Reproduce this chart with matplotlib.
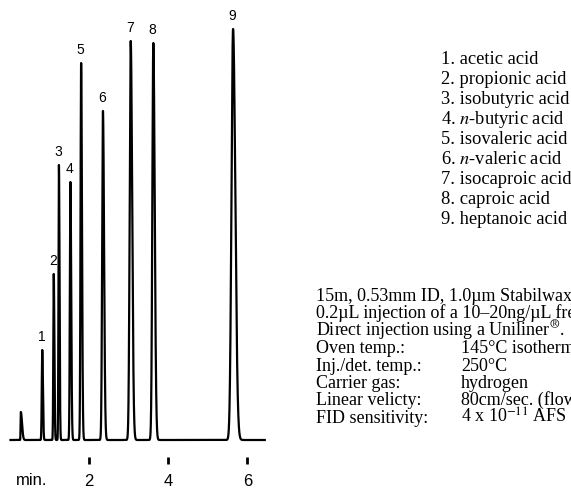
import numpy as np
import matplotlib
matplotlib.use("Agg")
import matplotlib.pyplot as plt

plt.rcParams["mathtext.fontset"] = "stix"

# ---- data ----
peak_ids = ["1", "2", "3", "4", "5", "6", "7", "8", "9"]
peak_times = [0.83, 1.12, 1.25, 1.54, 1.81, 2.36, 3.06, 3.63, 5.64]      # min
peak_heights = [90, 166, 275, 258, 377, 329, 399, 397, 411]              # response, a.u.
peak_sigma = [0.012, 0.011, 0.011, 0.014, 0.015, 0.020, 0.026, 0.025, 0.040]  # min
tail_ratio = 1.4
solvent_time, solvent_height = 0.29, 28
run_start, run_end = 0.03, 6.44
tick_minutes = [2, 4, 6]

compounds = [
    "acetic acid",
    "propionic acid",
    "isobutyric acid",
    r"$\mathit{n}$-butyric acid",
    "isovaleric acid",
    r"$\mathit{n}$-valeric acid",
    "isocaproic acid",
    "caproic acid",
    "heptanoic acid",
]

notes = [
    "15m, 0.53mm ID, 1.0µm Stabilwax-DA",
    "0.2µL injection of a 10–20ng/µL free acid mix",
    r"Direct injection using a Uniliner$^{\circledR}$.",
]
cond_labels = ["Oven temp.:", "Inj./det. temp.:", "Carrier gas:", "Linear velicty:", "FID sensitivity:"]
cond_values = ["145°C isothermal", "250°C", "hydrogen", "80cm/sec. (flow rate)", r"4 x 10$^{-11}$ AFS"]


def bigauss(t, t0, h, s, ratio):
    s_eff = np.where(t < t0, s, s * ratio)
    return h * np.exp(-0.5 * ((t - t0) / s_eff) ** 2)


t = np.arange(run_start, run_end, 0.0005)
signal = bigauss(t, solvent_time, solvent_height, 0.006, 5.0)
for t0, h, s in zip(peak_times, peak_heights, peak_sigma):
    signal = signal + bigauss(t, t0, h, s, tail_ratio)

# ---- figure: 571 x 488 px ----
W, H = 571, 488
fig = plt.figure(figsize=(W / 100, H / 100), dpi=100)
ax = fig.add_axes([0, 0, 1, 1])
ax.patch.set_alpha(0)

# pixel x = 9.33 + 39.67 * t ; pixel y (from top) = 440 - signal
ax.set_xlim(-9.33 / 39.67, (W - 9.33) / 39.67)
ax.set_ylim(-48, 440)

ax.plot(t, signal, color="black", lw=1.6, solid_joinstyle="round")

for pid, t0, h in zip(peak_ids, peak_times, peak_heights):
    ax.annotate(pid, xy=(t0, h), xytext=(-0.5, 4), textcoords="offset points",
                ha="center", va="bottom", fontsize=10, family="Liberation Sans")

for side in ["left", "right", "top"]:
    ax.spines[side].set_visible(False)
ax.spines["bottom"].set_position(("data", -24))
ax.spines["bottom"].set_visible(False)
ax.set_yticks([])
ax.set_xticks(tick_minutes)
ax.set_xticklabels([str(m) for m in tick_minutes], family="Liberation Sans")
ax.tick_params(axis="x", direction="in", length=5, width=2, pad=7, labelsize=12)
fig.text(31.7 / W, 1 - 485 / H, "min.", ha="center", va="baseline",
         fontsize=12, family="Liberation Sans")

# ---- compound list ----
for i, name in enumerate(compounds):
    fig.text(441 / W, 1 - (64.3 + 20 * i) / H, f"{i + 1}. {name}",
             ha="left", va="baseline", fontsize=13.3, family="Liberation Serif")

# ---- conditions ----
y0, dy = 301, 17.4
for i, line in enumerate(notes):
    fig.text(316 / W, 1 - (y0 + dy * i) / H, line, ha="left", va="baseline",
             fontsize=13, family="Liberation Serif")
for j, (lab, val) in enumerate(zip(cond_labels, cond_values)):
    y = 1 - (y0 + dy * (j + len(notes))) / H
    fig.text(316 / W, y, lab, ha="left", va="baseline", fontsize=13, family="Liberation Serif")
    fig.text(461 / W, y, val, ha="left", va="baseline", fontsize=13, family="Liberation Serif")

fig.savefig("out.png", dpi=100)
